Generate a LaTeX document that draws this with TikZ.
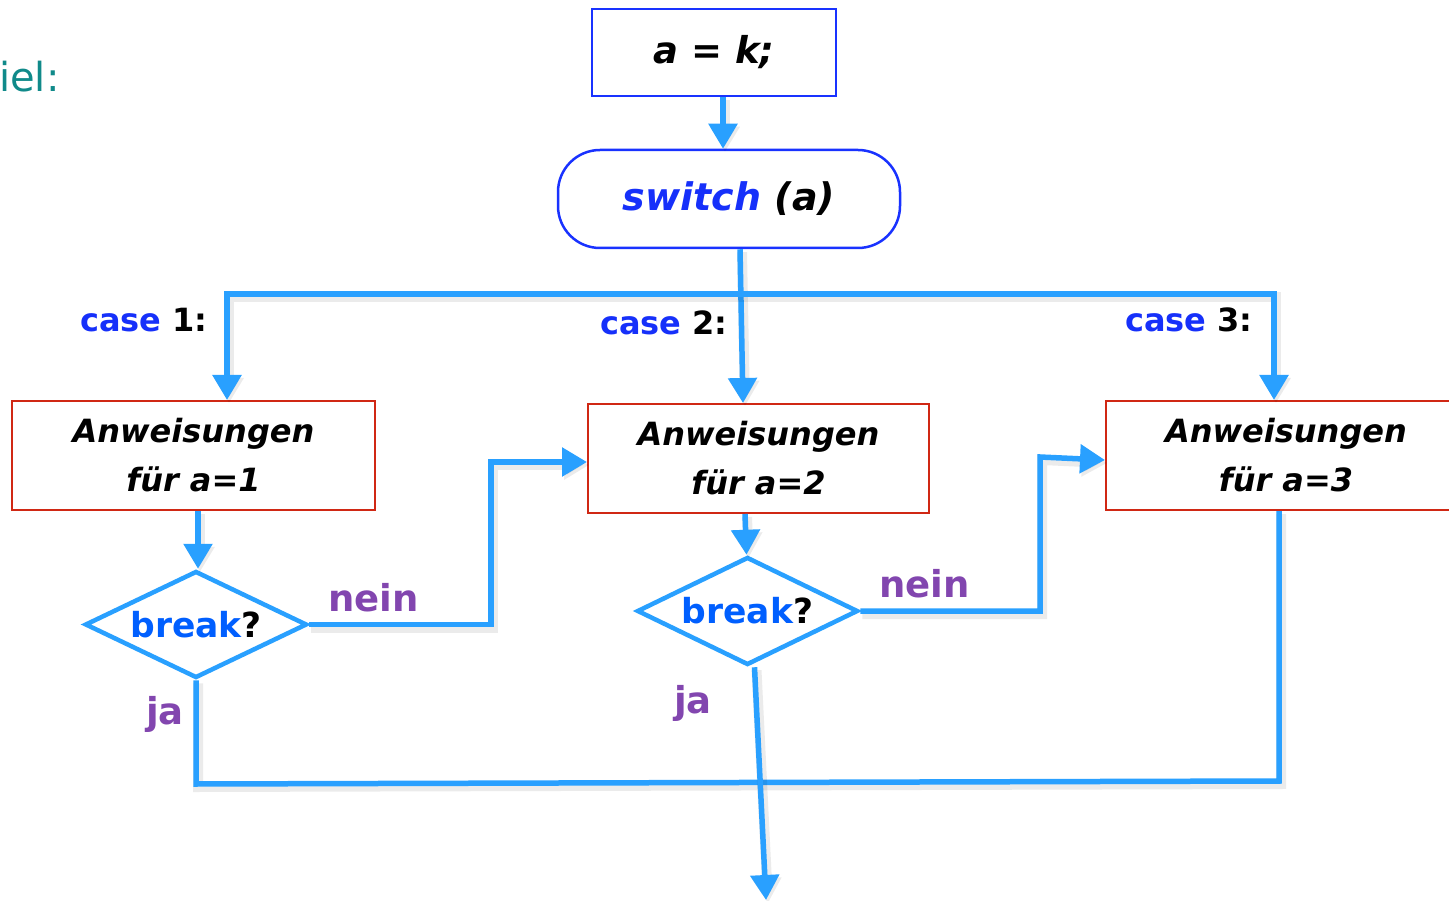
\documentclass[tikz,border=0pt]{standalone}
\usepackage{fontspec}
\setmainfont{DejaVu Sans}
\usetikzlibrary{arrows.meta,shapes.geometric,calc}
\definecolor{flowblue}{RGB}{41,160,255}
\definecolor{frameblue}{RGB}{25,50,255}
\definecolor{kwblue}{RGB}{22,48,250}
\definecolor{breakblue}{RGB}{0,95,255}
\definecolor{framered}{RGB}{208,40,20}
\definecolor{labpurple}{RGB}{130,70,175}
\definecolor{headteal}{RGB}{16,138,138}

\begin{document}
\begin{tikzpicture}[x=1pt,y=-1pt,
  link/.style={draw=flowblue,line width=5.5pt,
    preaction={draw=black,opacity=0.08,line width=10pt,
      transform canvas={shift={(2pt,-3pt)}}}},
  tip/.tip={Triangle[width=28pt,length=25pt]},
  flow/.style={link,-tip},
  initbox/.style={draw=frameblue,line width=2.5pt,fill=white,
    minimum width=244pt,minimum height=87pt,inner sep=0pt,
    font=\fontsize{37}{40}\selectfont\bfseries\itshape},
  switchbox/.style={draw=frameblue,line width=2.5pt,fill=white,
    rounded corners=42pt,minimum width=342pt,minimum height=98pt,inner sep=0pt,
    font=\fontsize{38}{40}\selectfont\bfseries\itshape},
  casebox/.style={draw=framered,line width=2pt,fill=white,
    minimum height=109pt,inner sep=0pt,align=center,
    font=\fontsize{32}{49}\selectfont\bfseries\itshape},
  decision/.style={diamond,shape aspect=2.07,draw=flowblue,line width=4.5pt,fill=white,
    inner sep=0pt,font=\fontsize{34.5}{40}\selectfont\bfseries},
  caselabel/.style={anchor=base west,inner sep=0pt,
    font=\fontsize{32}{40}\selectfont\bfseries},
  answer/.style={anchor=base west,inner sep=0pt,text=labpurple,
    font=\fontsize{37}{40}\selectfont\bfseries},
]
% page
\path[use as bounding box,fill=white] (0,0) rectangle (1449,901);

% heading remnant
\node[anchor=base west,inner sep=0pt,text=headteal,
  font=\fontsize{40}{42}\selectfont] (head) at (-1,92) {iel:};

% main blocks
\node[initbox] (init) at (714,52.5) {a = k;};
\node[switchbox] (sw) at (729,199) {\textcolor{kwblue}{switch} (a)};

\node[casebox,minimum width=363pt] (b1) at (193.5,455.5) {Anweisungen\\für a=1};
\node[casebox,minimum width=341pt] (b2) at (758.5,458.5) {Anweisungen\\für a=2};
\node[casebox,minimum width=360pt] (b3) at (1286,455.5) {Anweisungen\\für a=3};

\node[decision,minimum width=222pt,minimum height=107pt] (d1) at (196,624.5)
  {\textcolor{breakblue}{break}?};
\node[decision,minimum width=221pt,minimum height=108pt] (d2) at (747.5,611)
  {\textcolor{breakblue}{break}?};

% case labels
\node[caselabel] (c1) at (80,332) {\textcolor{kwblue}{case} 1:};
\node[caselabel] (c2) at (600,335) {\textcolor{kwblue}{case} 2:};
\node[caselabel] (c3) at (1125,332) {\textcolor{kwblue}{case} 3:};

% answers
\node[answer] (no1) at (328,611) {nein};
\node[answer] (no2) at (879,597) {nein};
\node[answer] (yes1) at (146,724) {ja};
\node[answer] (yes2) at (674,713) {ja};

% helper points
\coordinate (busL) at (227,294);
\coordinate (busR) at (1274,294);
\coordinate (n1) at (491,462);
\coordinate (n2) at (1040,457);
\coordinate (j1) at (196,784);
\coordinate (j3) at (1279,781);
\coordinate (exit) at (766,900);

% connectors
\draw[flow] ([xshift=9pt]init.south) -- ([xshift=-6pt]sw.north);
\draw[flow] ([xshift=11pt]sw.south) -- ([xshift=-15.5pt]b2.north);
\draw[link,tip-tip]
  ([xshift=33.5pt]b1.north) -- (busL) -- (busR) -- ([xshift=-12pt]b3.north);

\draw[flow] ([xshift=4.5pt]b1.south) -- ([xshift=2pt]d1.north);
\draw[flow] ([xshift=-13.5pt]b2.south) -- ([xshift=-1pt]d2.north);

\draw[flow] (d1.east) -| (n1) -- (n1 -| b2.west);
\draw[flow] (d2.east) -| (n2) -- ([yshift=-4.5pt]b3.west);

\draw[link] (d1.south) -- (j1) -- (j3) -- ([xshift=-7pt]b3.south);
\draw[flow] ([xshift=7pt]d2.south) -- (exit);
\end{tikzpicture}
\end{document}
